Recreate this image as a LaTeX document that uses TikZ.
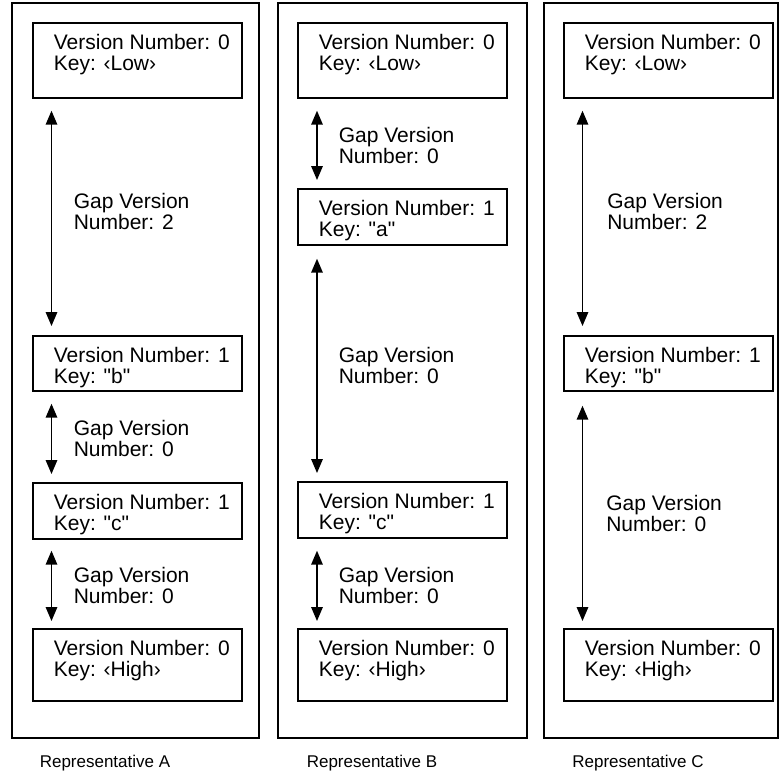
\documentclass[tikz,border=0pt]{standalone}
\usepackage{fontspec}
\setmainfont{Liberation Sans}[Ligatures=TeXOff]
\usetikzlibrary{arrows.meta}

% record box: fixed outer height, two left-aligned lines near the top
\newcommand\vrec[3]{\begin{minipage}[c][#1][t]{209pt}\fontsize{21}{21}\selectfont\leftskip=21pt\rule{0pt}{27pt}#2\par#3\end{minipage}}

\begin{document}
\begin{tikzpicture}[x=1pt,y=-1pt,
  frame/.style={draw, line width=1.8pt},
  vbox/.style={draw, line width=1.7pt, anchor=north west, inner sep=0pt},
  gap/.style={line width=1.6pt, {Triangle[length=14pt,width=11.5pt]}-{Triangle[length=14pt,width=11.5pt]}},
  gaplabel/.style={anchor=west, align=left, inner sep=0pt, font=\fontsize{21}{21}\selectfont},
  caption/.style={inner sep=0pt, font=\fontsize{17}{17}\selectfont}
]
\useasboundingbox (0,0) rectangle (780,776);

% representative frames
\draw[frame] (12,3) rectangle (259,738);
\draw[frame] (278,3) rectangle (527,738);
\draw[frame] (544,3) rectangle (778,738);

% Representative A
\node[vbox] (a0) at (32,22)  {\vrec{75pt}{Version Number: 0}{Key: ‹Low›}};
\node[vbox] (a1) at (32,335) {\vrec{55pt}{Version Number: 1}{Key: "b"}};
\node[vbox] (a2) at (32,482) {\vrec{56pt}{Version Number: 1}{Key: "c"}};
\node[vbox] (a3) at (32,628) {\vrec{72pt}{Version Number: 0}{Key: ‹High›}};

\draw[gap] ([xshift=19.5pt,yshift=-12pt]a0.south west) -- ([xshift=19.5pt,yshift=9pt]a1.north west)
  node[midway, gaplabel, xshift=21.5pt, yshift=7pt] (ga1) {Gap Version\\Number: 2};
\draw[gap] ([xshift=19.5pt,yshift=-12pt]a1.south west) -- ([xshift=19.5pt,yshift=8pt]a2.north west)
  node[midway, gaplabel, xshift=21.5pt] (ga2) {Gap Version\\Number: 0};
\draw[gap] ([xshift=19.5pt,yshift=-11pt]a2.south west) -- ([xshift=19.5pt,yshift=7pt]a3.north west)
  node[midway, gaplabel, xshift=21.5pt] (ga3) {Gap Version\\Number: 0};

% Representative B
\node[vbox] (b0) at (297,22)  {\vrec{75pt}{Version Number: 0}{Key: ‹Low›}};
\node[vbox] (b1) at (297,188) {\vrec{56pt}{Version Number: 1}{Key: "a"}};
\node[vbox] (b2) at (297,481) {\vrec{56pt}{Version Number: 1}{Key: "c"}};
\node[vbox] (b3) at (297,628) {\vrec{72pt}{Version Number: 0}{Key: ‹High›}};

\draw[gap] ([xshift=20pt,yshift=-12pt]b0.south west) -- ([xshift=20pt,yshift=8pt]b1.north west)
  node[midway, gaplabel, xshift=21pt] (gb1) {Gap Version\\Number: 0};
\draw[gap] ([xshift=20pt,yshift=-13pt]b1.south west) -- ([xshift=20pt,yshift=8pt]b2.north west)
  node[midway, gaplabel, xshift=21pt] (gb2) {Gap Version\\Number: 0};
\draw[gap] ([xshift=20pt,yshift=-12pt]b2.south west) -- ([xshift=20pt,yshift=7pt]b3.north west)
  node[midway, gaplabel, xshift=21pt] (gb3) {Gap Version\\Number: 0};

% Representative C
\node[vbox] (c0) at (563,22)  {\vrec{75pt}{Version Number: 0}{Key: ‹Low›}};
\node[vbox] (c1) at (563,335) {\vrec{55pt}{Version Number: 1}{Key: "b"}};
\node[vbox] (c2) at (563,628) {\vrec{72pt}{Version Number: 0}{Key: ‹High›}};

\draw[gap] ([xshift=19.5pt,yshift=-12pt]c0.south west) -- ([xshift=19.5pt,yshift=9pt]c1.north west)
  node[midway, gaplabel, xshift=24pt, yshift=7pt] (gc1) {Gap Version\\Number: 2};
\draw[gap] ([xshift=19.5pt,yshift=-14pt]c1.south west) -- ([xshift=19.5pt,yshift=7pt]c2.north west)
  node[midway, gaplabel, xshift=23pt] (gc2) {Gap Version\\Number: 0};

% captions
\node[caption] (capA) at (105,763) {Representative A};
\node[caption] (capB) at (372,763) {Representative B};
\node[caption] (capC) at (638,763) {Representative C};
\end{tikzpicture}
\end{document}
